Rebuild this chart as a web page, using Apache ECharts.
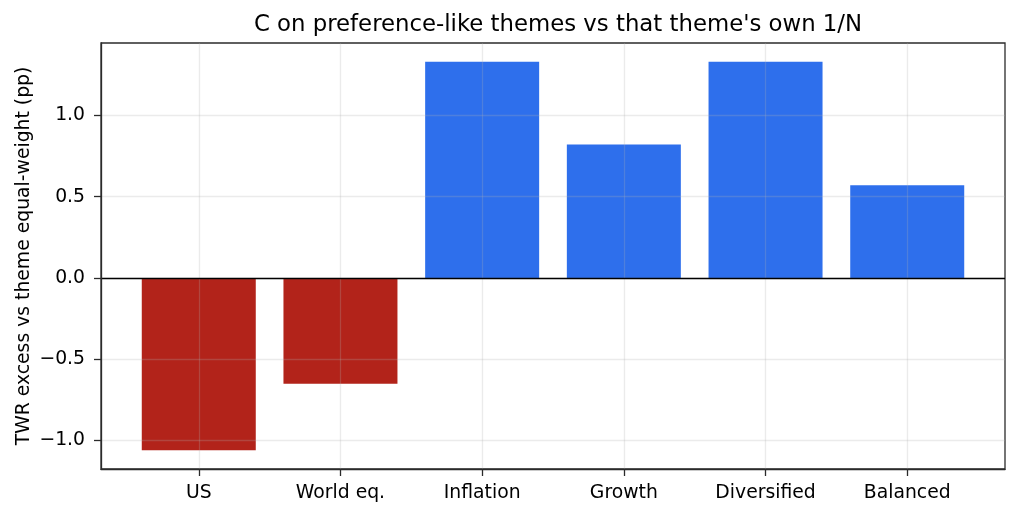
<!DOCTYPE html>
<html>
<head>
<meta charset="utf-8">
<script src="https://cdn.jsdelivr.net/npm/echarts@6/dist/echarts.min.js"></script>
<style>
  html, body { margin: 0; padding: 0; background: #fff; }
  #chart { width: 1020px; height: 517px; }
</style>
</head>
<body>
<div id="chart"></div>
<script>
var categories = ['US', 'World eq.', 'Inflation', 'Growth', 'Diversified', 'Balanced']
var values = [-1.06, -0.65, 1.33, 0.82, 1.33, 0.57]
var yTicks = [-1.0, -0.5, 0.0, 0.5, 1.0]

var xPos = categories.map(function (c, i) { return i })

// red for negative, blue for positive
var barData = values.map(function (v, i) {
  return {
    value: [i, v],
    itemStyle: { color: v < 0 ? '#b2231a' : '#2e6fec' }
  }
})

function fmtY(v) {
  var s = Math.abs(v).toFixed(1)
  return v < 0 ? '\u2212' + s : s
}

var FONT = 'DejaVu Sans'
var chart = echarts.init(document.getElementById('chart'))

var option = {
  animation: false,
  textStyle: { fontFamily: FONT },
  title: {
    text: "C on preference-like themes vs that theme's own 1/N",
    left: 553,
    textAlign: 'center',
    top: 9,
    textStyle: { fontSize: 22.8, fontWeight: 'normal', color: '#000', fontFamily: FONT }
  },
  grid: {
    left: 101, right: 15, top: 43, bottom: 48,
    show: true, borderColor: '#2b2b2b', borderWidth: 1.3, backgroundColor: 'transparent'
  },
  xAxis: {
    type: 'value',
    min: -0.69,
    max: 5.69,
    z: 5,
    axisLine: { show: true, onZero: false, lineStyle: { color: '#2b2b2b', width: 1.3 } },
    axisTick: { show: true, length: 7, customValues: xPos, lineStyle: { color: '#2b2b2b', width: 1.3 } },
    axisLabel: {
      customValues: xPos,
      margin: 15,
      fontSize: 18.8,
      fontFamily: FONT,
      color: '#000',
      formatter: function (v) { return categories[Math.round(v)] }
    },
    splitLine: { show: true, lineStyle: { color: 'rgba(176,176,176,0.25)', width: 1.3 } }
  },
  yAxis: {
    type: 'value',
    min: -1.175,
    max: 1.445,
    z: 5,
    name: 'TWR excess vs theme equal-weight (pp)',
    nameLocation: 'middle',
    nameGap: 67,
    nameMoveOverlap: false,
    nameTextStyle: { fontSize: 18.8, color: '#000', fontFamily: FONT },
    axisLine: { show: true, onZero: false, lineStyle: { color: '#2b2b2b', width: 1.3 } },
    axisTick: { show: true, length: 7, customValues: yTicks, lineStyle: { color: '#2b2b2b', width: 1.3 } },
    axisLabel: { customValues: yTicks, margin: 16, fontSize: 18.8, fontFamily: FONT, color: '#000', formatter: fmtY },
    splitLine: { show: true, lineStyle: { color: 'rgba(176,176,176,0.25)', width: 1.3 } }
  },
  series: [{
    type: 'bar',
    data: barData,
    barWidth: 114,
    markLine: {
      silent: true,
      symbol: 'none',
      label: { show: false },
      lineStyle: { color: '#000', width: 1.3, type: 'solid' },
      data: [{ yAxis: 0 }]
    }
  }]
}

chart.setOption(option)
</script>
</body>
</html>
